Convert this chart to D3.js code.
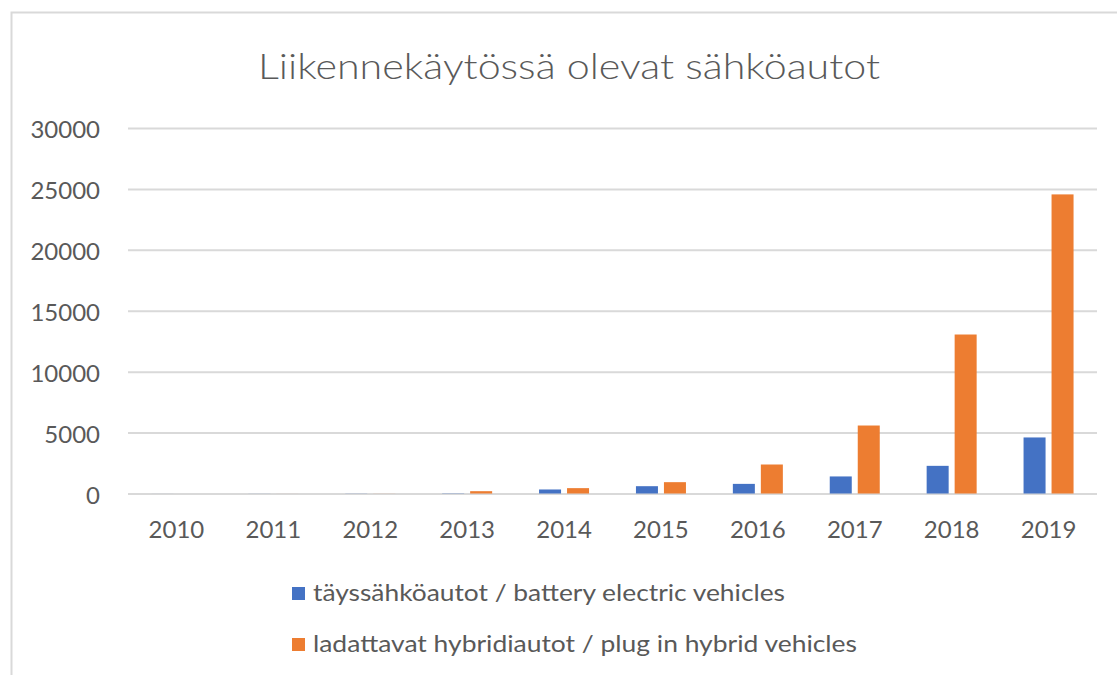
<!DOCTYPE html>
<html>
<head>
<meta charset="utf-8">
<script src="https://cdn.jsdelivr.net/npm/d3@7"></script>
<style>
  html, body { margin: 0; padding: 0; background: #fff; }
  svg { display: block; font-family: Lato, "Open Sans", sans-serif; }
</style>
</head>
<body>
<div id="chart"></div>
<script>
// Liikennekäytössä olevat sähköautot - data luettu kuvasta
const years = ['2010', '2011', '2012', '2013', '2014', '2015', '2016', '2017', '2018', '2019'];
const bevValues = [2, 5, 10, 20, 330, 600, 790, 1400, 2270, 4600];
const phevValues = [0, 2, 5, 190, 440, 930, 2380, 5580, 13050, 24550];
const yTicks = [0, 5000, 10000, 15000, 20000, 25000, 30000];
const seriesNames = ['täyssähköautot / battery electric vehicles', 'ladattavat hybridiautot / plug in hybrid vehicles'];
const seriesColors = ['#4472C4', '#ED7D31'];
const titleText = 'Liikennekäytössä olevat sähköautot';

const width = 1117, height = 675;
const plot = { left: 128, right: 1097, top: 128, bottom: 493.5 };
const textColor = '#595959';
const gridColor = '#d9d9d9';

const svg = d3.select('#chart').append('svg')
    .attr('width', width)
    .attr('height', height);

svg.append('rect').attr('width', width).attr('height', height).attr('fill', '#fff');

// chart area border (only top + left visible in the picture)
svg.append('path')
    .attr('d', `M11.5,${height} V12.5 H${width}`)
    .attr('fill', 'none')
    .attr('stroke', gridColor)
    .attr('stroke-width', 2);

// title - venytetty leveyteen kuten kuvassa
svg.append('text')
    .attr('x', 569)
    .attr('y', 79)
    .attr('text-anchor', 'middle')
    .attr('fill', textColor)
    .attr('textLength', 622)
    .attr('lengthAdjust', 'spacingAndGlyphs')
    .style('font-size', '35px')
    .style('font-weight', 300)
    .text(titleText);

// scales
const x0 = d3.scaleBand().domain(years).range([plot.left, plot.right]).padding(0);
const keys = ['bev', 'phev'];
const groupW = 50;
const x1 = d3.scaleBand().domain(keys).range([0, groupW]).paddingInner(0.214);
const y = d3.scaleLinear().domain([0, 30000]).range([plot.bottom, plot.top]);

// gridlines + y labels
const yAxis = svg.append('g')
    .attr('transform', `translate(${plot.left},0)`)
    .call(d3.axisLeft(y).tickValues(yTicks).tickSize(-(plot.right - plot.left)).tickPadding(28).tickFormat(d3.format('d')));
yAxis.select('.domain').remove();
yAxis.selectAll('.tick line').attr('stroke', gridColor).attr('stroke-width', 2);
yAxis.selectAll('.tick text')
    .attr('fill', textColor)
    .attr('dy', '9.5')
    .style('font-size', '24px')
    .style('font-family', 'Lato, "Open Sans", sans-serif');

// x labels
const xAxis = svg.append('g')
    .attr('transform', `translate(0,${plot.bottom})`)
    .call(d3.axisBottom(x0).tickSize(0).tickPadding(0));
xAxis.select('.domain').remove();
xAxis.selectAll('.tick text')
    .attr('fill', textColor)
    .attr('y', 44.5)
    .attr('dy', 0)
    .style('font-size', '24px')
    .style('font-family', 'Lato, "Open Sans", sans-serif');

// bars
const rows = years.map((yr, i) => ({ year: yr, bev: bevValues[i], phev: phevValues[i] }));
const groups = svg.append('g').selectAll('g')
    .data(rows)
    .join('g')
    .attr('transform', d => `translate(${x0(d.year) + x0.bandwidth() / 2 - groupW / 2},0)`);

groups.selectAll('rect')
    .data(d => keys.map((k, i) => ({ key: k, value: d[k], color: seriesColors[i] })))
    .join('rect')
    .attr('x', d => x1(d.key))
    .attr('width', x1.bandwidth())
    .attr('y', d => y(d.value))
    .attr('height', d => plot.bottom - y(d.value))
    .attr('fill', d => d.color);

// legend
const legend = svg.append('g');
const legendRows = [{ y: 587, w: 472 }, { y: 638, w: 544 }];
seriesNames.forEach((name, i) => {
    const row = legend.append('g').attr('transform', `translate(292,${legendRows[i].y})`);
    row.append('rect')
        .attr('width', 13)
        .attr('height', 13)
        .attr('fill', seriesColors[i]);
    row.append('text')
        .attr('x', 21)
        .attr('y', 13.5)
        .attr('fill', textColor)
        .attr('textLength', legendRows[i].w)
        .attr('lengthAdjust', 'spacingAndGlyphs')
        .style('font-size', '24px')
        .text(name);
});
</script>
</body>
</html>
